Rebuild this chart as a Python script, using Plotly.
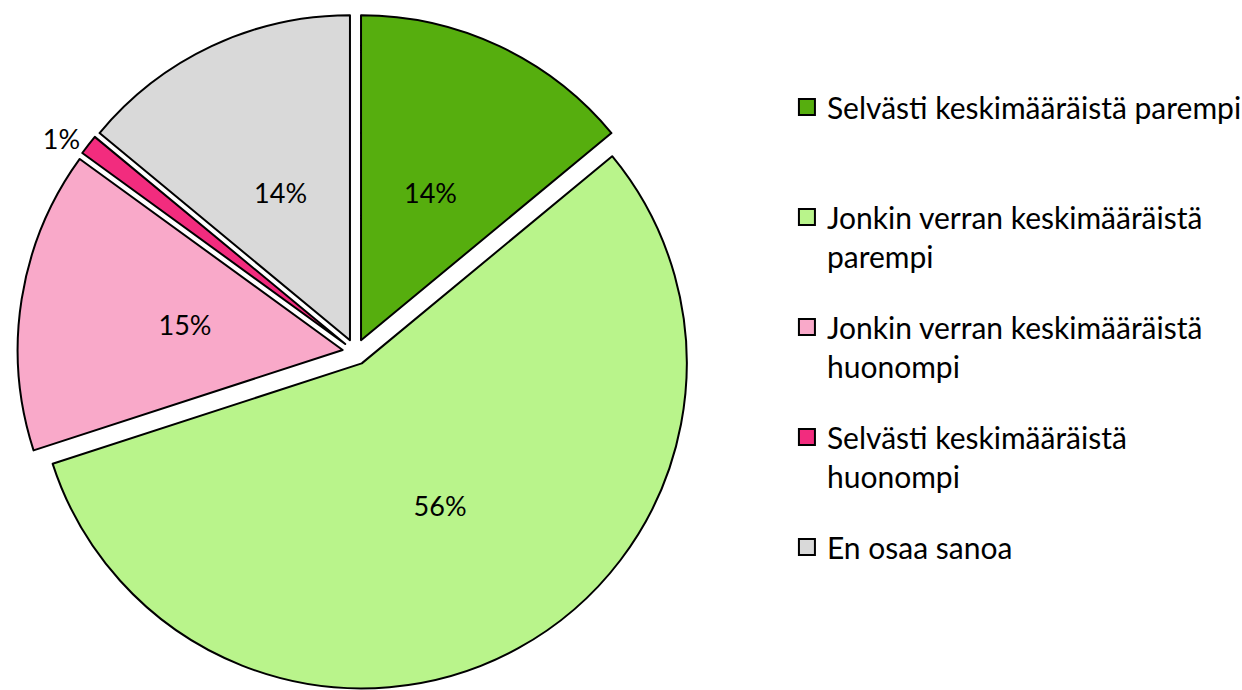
import plotly.graph_objects as go

labels = [
    "Selvästi keskimääräistä parempi",
    "Jonkin verran keskimääräistä parempi",
    "Jonkin verran keskimääräistä huonompi",
    "Selvästi keskimääräistä huonompi",
    "En osaa sanoa",
]
legend_labels = [
    "Selvästi keskimääräistä parempi<br>\u00a0",
    "Jonkin verran keskimääräistä<br>parempi",
    "Jonkin verran keskimääräistä<br>huonompi",
    "Selvästi keskimääräistä<br>huonompi",
    "En osaa sanoa",
]
values = [14, 56, 15, 1, 14]
colors = ["#56AE0E", "#B9F48B", "#F9A9C9", "#F22C7E", "#D9D9D9"]

# which labels the big pie writes, and which the inner text-only pie writes
PCT = "%{percent:.0%}"
main_text = ["", PCT, "", PCT, ""]
main_pos = ["inside", "inside", "inside", "outside", "inside"]
inner_text = [PCT, "", PCT, "", PCT]

FONT = "Lato"
TXT = dict(family=FONT, size=27, color="black")

fig = go.Figure()
fig.add_trace(go.Pie(
    labels=labels,
    values=values,
    sort=False,
    direction="clockwise",
    rotation=0,
    pull=0.04,
    marker=dict(colors=colors, line=dict(color="black", width=2)),
    textposition=main_pos,
    texttemplate=main_text,
    insidetextorientation="horizontal",
    textfont=TXT,
    outsidetextfont=TXT,
    showlegend=False,
    hoverinfo="label+percent",
    domain=dict(x=[0, 0.57246], y=[0, 0.97971]),
))

# transparent text-only pie (same data) so the small-slice labels sit mid-radius
fig.add_trace(go.Pie(
    labels=labels,
    values=values,
    sort=False,
    direction="clockwise",
    rotation=0,
    marker=dict(colors=["rgba(0,0,0,0)"] * len(values), line=dict(width=0)),
    textposition="inside",
    texttemplate=inner_text,
    insidetextorientation="horizontal",
    textfont=TXT,
    showlegend=False,
    hoverinfo="skip",
    domain=dict(x=[0.08414, 0.48833], y=[0.12609, 0.85362]),
))

for lab, col in zip(legend_labels, colors):
    fig.add_trace(go.Scatter(
        x=[None], y=[None], mode="markers", name=lab, legendgroup=lab,
        marker=dict(symbol="square", size=16, color=col, line=dict(color="black", width=2)),
        showlegend=True, hoverinfo="skip",
    ))

fig.update_layout(
    width=1242, height=690,
    margin=dict(l=0, r=0, t=0, b=0, autoexpand=False),
    paper_bgcolor="white", plot_bgcolor="white",
    xaxis=dict(visible=False), yaxis=dict(visible=False),
    legend=dict(
        x=0.6336, y=0.8826, xanchor="left", yanchor="top",
        font=dict(family=FONT, size=30, color="black"),
        valign="top", tracegroupgap=29, traceorder="grouped",
        bgcolor="rgba(0,0,0,0)",
    ),
    font=dict(family=FONT),
)

fig.write_html(
    "out.html",
    config={"displayModeBar": False},
    post_script="document.body.style.margin='0px';",
)
